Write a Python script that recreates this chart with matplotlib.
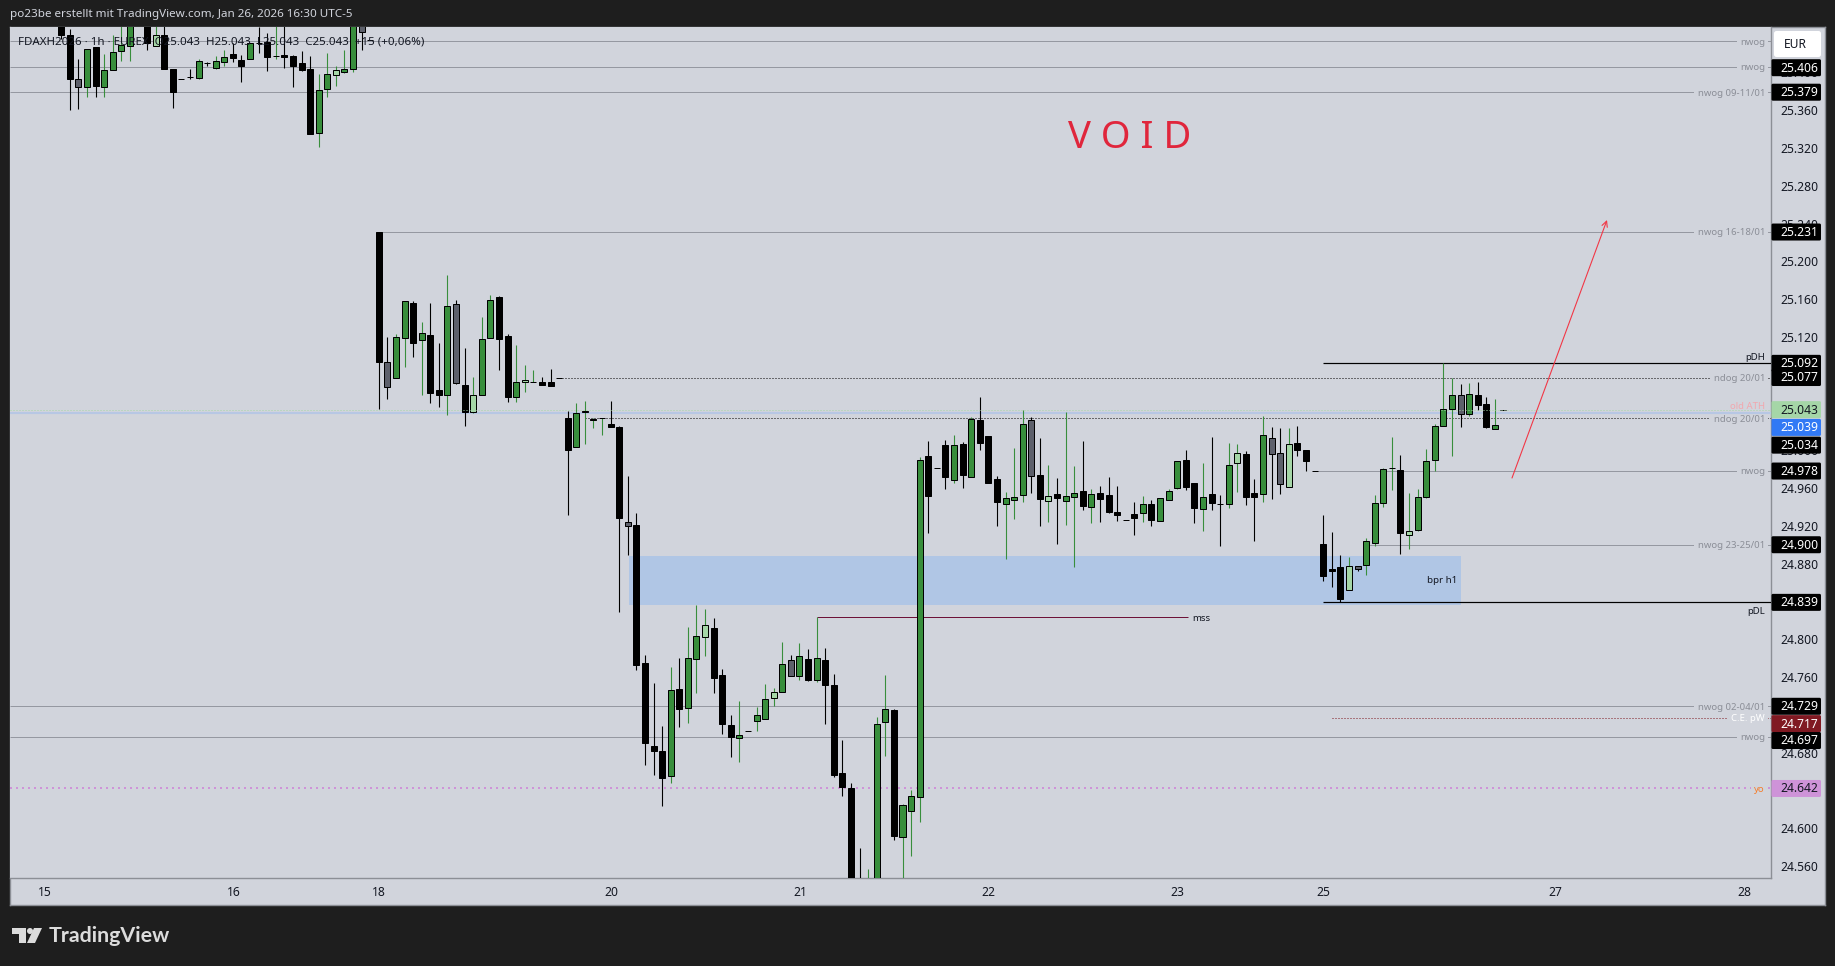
import matplotlib
matplotlib.use("Agg")
import matplotlib.pyplot as plt
from matplotlib.patches import FancyBboxPatch, Polygon, Circle
from matplotlib.transforms import ScaledTranslation

plt.rcParams['font.family'] = ['Noto Sans', 'DejaVu Sans']

# ---------- data ----------
first_bar = 2
opens = [25460,25440,25393,25384,25427,25385,25402,25423,
         25428,25485,25465,25428,25440,25404,25393,25395,25394,25410,
         25405,25411,25419,25413,25414,25431,25432,25417,25418,25417,
         25410,25404,25336,25382,25397,25400,25404,25455,25434,25231,
         25093,25076,25119,25156,25117,25122,25064,25058,25155,25069,
         25041,25058,25119,25162,25121,25056,25072,25072,25072,25072,
         25076,25034,25003,25041,25032,25034,25028,25025,24924,24921,
         24775,24687,24682,24655,24747,24727,24779,24802,24812,24762,
         24709,24695,24703,24713,24716,24738,24744,24778,24761,24779,
         24757,24778,24751,24658,24643,24530,24500,24520,24712,24725,
         24591,24618,24633,24994,24981,25006,24969,25007,24972,25032,
         25015,24970,24943,24947,24953,25032,24974,24946,24954,24946,
         24951,24957,24940,24955,24953,24935,24926,24933,24934,24943,
         24925,24947,24960,24990,24965,24938,24954,24943,24943,24987,
         24996,24955,24954,25013,24997,24961,25008,25000,24978,24901,
         24874,24876,24852,24877,24879,24902,24944,24981,24979,24910,
         24916,24951,24990,25026,25044,25058,25038,25058,25049,25022,
         25043]
closes = [25440,25393,25384,25425,25386,25403,25422,25429,
          25460,25465,25431,25440,25404,25379,25393,25395,25412,25410,
          25412,25416,25415,25407,25431,25431,25416,25417,25416,25407,
          25403,25335,25381,25398,25403,25404,25450,25443,25434,25093,
          25067,25120,25158,25114,25124,25061,25059,25153,25071,25040,
          25059,25118,25159,25118,25056,25072,25074,25072,25069,25068,
          25076,25000,25039,25042,25033,25034,25025,24928,24920,24773,
          24690,24682,24653,24746,24726,24780,24803,24815,24759,24710,
          24696,24699,24703,24720,24737,24744,24774,24761,24782,24757,
          24780,24752,24656,24644,24530,24520,24530,24710,24726,24592,
          24624,24634,24990,24952,24981,24972,25006,24974,25033,25008,
          24965,24945,24949,24951,25028,24973,24948,24952,24949,24952,
          24955,24941,24954,24948,24935,24932,24926,24928,24943,24926,
          24949,24957,24989,24961,24939,24950,24944,24943,24984,24997,
          24950,24951,25016,24996,24964,25007,25000,24989,24978,24867,
          24872,24843,24877,24874,24904,24944,24980,24981,24912,24915,
          24951,24989,25026,25044,25058,25038,25060,25048,25025,25027,
          25043]
highs = [25470,25446,25414,25425,25427,25419,25440,25455,
         25470,25495,25470,25455,25450,25404,25393,25404,25414,25411,
         25417,25424,25431,25418,25431,25448,25442,25455,25450,25418,
         25423,25417,25398,25421,25407,25424,25470,25460,25434,25231,
         25120,25123,25158,25158,25136,25156,25114,25186,25159,25108,
         25078,25141,25164,25163,25123,25111,25090,25085,25078,25086,
         25076,25042,25050,25052,25034,25034,25052,25026,24973,24934,
         24783,24754,24708,24771,24780,24813,24836,24832,24822,24768,
         24720,24735,24703,24728,24753,24748,24797,24783,24796,24790,
         24823,24791,24763,24693,24648,24579,24557,24718,24762,24726,
         24626,24640,24993,25010,24981,25011,25016,25009,25035,25056,
         25015,24973,24956,25002,25043,25035,25013,24984,24971,25040,
         24983,25010,24959,24962,24972,24962,24926,24945,24952,24947,
         24949,24959,24989,25000,24965,24986,25014,24953,25008,25007,
         24999,24970,25036,25025,25024,25024,25026,25000,24978,24931,
         24913,24889,24887,24877,24907,24953,24981,25014,24995,24955,
         24959,25001,25028,25092,25076,25070,25071,25072,25056,25054,
         25043]
lows = [25435,25360,25361,25374,25374,25374,25402,25412,
        25412,25455,25424,25428,25404,25362,25393,25393,25393,25407,
        25404,25407,25411,25390,25414,25421,25401,25414,25405,25385,
        25401,25335,25321,25374,25386,25399,25400,25424,25434,25044,
        25054,25076,25088,25099,25058,25050,25046,25037,25070,25026,
        25039,25058,25119,25085,25051,25051,25062,25072,25069,25068,
        25076,24932,25003,25007,25024,25016,25025,24829,24889,24767,
        24667,24656,24623,24648,24707,24711,24743,24782,24743,24700,
        24675,24670,24703,24703,24716,24729,24744,24761,24757,24756,
        24755,24710,24654,24634,24520,24500,24500,24510,24676,24587,
        24530,24570,24607,24912,24981,24959,24965,24960,24972,25000,
        24965,24920,24885,24927,24945,24955,24920,24924,24901,24921,
        24876,24937,24923,24924,24934,24925,24926,24910,24924,24920,
        24925,24947,24959,24958,24923,24915,24937,24899,24939,24956,
        24942,24904,24945,24948,24954,24961,24994,24978,24978,24862,
        24855,24839,24852,24872,24868,24899,24940,24958,24890,24896,
        24915,24949,24978,25026,24994,25025,25036,25043,25024,25022,
        25043]
# g up, k down, l pale up, s slate down
kinds = list("kksgkggg" "gkklkkkkgk" "ggkkgkkgkk" "kkgglggskk" "sggkgkkgsk"
             "lggkkglgkk" "kkggggkksk" "kkkgkgglkk" "kgkggl" "gsgk" "gkkkkkgggk"
             "gggkkkgkgk" "kkgggsklkg" "gkgkkkkkgk" "gggkkgkkgl" "kkgsslkkkk"
             "kklsggggkl" "ggggg" "sgkkg" "k")

tick_bars = [0, 22, 39, 66, 88, 110, 132, 149, 176, 198]
tick_days = ['15', '16', '18', '20', '21', '22', '23', '25', '27', '28']
# labels hidden entirely behind price tags in the picture are left out
price_ticks = [24560, 24600, 24680, 24760, 24800, 24880, 24920, 24960, 25000,
               25120, 25160, 25200, 25240, 25280, 25320, 25360, 25400]

# horizontal levels: price, start bar (None = whole width), text, colour, width px, dotted
level_prices = [25433, 25406, 25379, 25231, 25077, 25034, 24978, 24900, 24729, 24717, 24697, 24642]
level_starts = [None, None, None, 39, 60, 63, 148, 154, None, 150, None, None]
level_texts = ['nwog', 'nwog', 'nwog 09-11/01', 'nwog 16-18/01', 'ndog 20/01', 'ndog 20/01', 'nwog',
               'nwog 23-25/01', 'nwog 02-04/01', 'C.E. pW', 'nwog', 'yo']
level_colors = ['#9598a1', '#9598a1', '#9598a1', '#9598a1', '#000000', '#000000', '#9598a1',
                '#9598a1', '#9598a1', '#801922', '#9598a1', '#ce93d8']
level_text_colors = ['#8b8e97'] * 9 + ['#ffffff', '#8b8e97', '#f57c2a']
level_dotted = [0, 0, 0, 0, 1, 1, 0, 0, 0, 1, 0, 1]
level_widths = [1, 1, 1, 1, 1, 1, 1, 1, 1, 1, 1, 2]

# price scale labels: value, background, text colour, pixel shift caused by stacking
tag_prices = [25406, 25379, 25231, 25092, 25077, 25043, 25039, 25034, 24978, 24900, 24839, 24729, 24717, 24697, 24642]
tag_bgs = ['#000000'] * 5 + ['#a5d6a7', '#3179f5'] + ['#000000'] * 4 + ['#000000', '#801922', '#000000', '#ce93d8']
tag_fgs = ['#ffffff'] * 5 + ['#131722', '#ffffff'] + ['#ffffff'] * 4 + ['#ffffff', '#ffffff', '#ffffff', '#131722']
tag_shift = [1, 0, 0, 0, 0, 0, 14, 27, 0, 0, 0, 0, 6, 4, 0]

pdh, pdl = 25092, 24839
old_ath, last_blue = 25043, 25039
box_top, box_bottom = 24888, 24836
mss_price = 24823

# ---------- pixel geometry ----------
W, H = 1835, 966
L, R, T, B = 10, 1771, 27, 878.3
FR, FB = 1825, 905
P0, PK = 25476.6, 1.0585   # price at pixel 0 and price per pixel
BAR0, BARW = 44.0, 8.585   # pixel of bar 0 and pixel width of a bar


def bx(px):
    return (px - BAR0) / BARW


def rect(l, t, r, b):
    return [l / W, 1 - b / H, (r - l) / W, (b - t) / H]


BG = '#d1d4dc'
OUTER = '#1e1e1e'
GREEN, PALE, SLATE = '#388e3c', '#a5d6a7', '#5d606b'
LW = 0.72
fs = 8.7

fig = plt.figure(figsize=(W / 100, H / 100), dpi=100, facecolor=OUTER)

frame = fig.add_axes(rect(L, T, FR, FB), facecolor=BG, zorder=0)
frame.set_xticks([]); frame.set_yticks([])
for s in frame.spines.values():
    s.set_color('#8c8f96'); s.set_linewidth(LW * 1.4)

ax = fig.add_axes(rect(L, T, R, B), facecolor=BG, zorder=1)
ax.set_xlim(bx(L), bx(R))
ax.set_ylim(P0 - PK * B, P0 - PK * T)
for k, s in ax.spines.items():
    s.set_color('#8c8f96'); s.set_linewidth(LW * 1.4)
    if k in ('top', 'left'):
        s.set_visible(False)
ax.yaxis.tick_right()
ax.set_yticks(price_ticks)
ax.set_yticklabels([f'{p // 1000}.{p % 1000:03d}' for p in price_ticks], fontsize=fs, color='#131722')
ax.set_xticks(tick_bars)
ax.set_xticklabels(tick_days, fontsize=fs, color='#131722')
ax.tick_params(axis='y', length=0, pad=6.5)
ax.tick_params(axis='x', length=0, pad=5.5)
for lbl in ax.get_xticklabels():
    lbl.set_transform(lbl.get_transform() + ScaledTranslation(0.5 / 100, 0, fig.dpi_scale_trans))

# zone
ax.fill_between([bx(629), bx(1461)], box_bottom, box_top, color='#b0c6e5', lw=0, zorder=1)
ax.text(bx(1457), (box_top + box_bottom) / 2, 'bpr h1', ha='right', va='center', fontsize=7.0, color='#131722', zorder=6)

# levels
ax.axhline(last_blue, color='#b7c7e4', lw=1.5, zorder=3)
for p, st, txt, c, tc, dot, w in zip(level_prices, level_starts, level_texts, level_colors,
                                     level_text_colors, level_dotted, level_widths):
    ls = (0, (1, 2)) if dot else '-'
    ax.hlines(p, bx(L) if st is None else st, bx(R), color=c, lw=w * LW, linestyle=ls, zorder=2)
    ax.text(bx(1765), p - 1, txt, ha='right', va='center', fontsize=6.9, color=tc, zorder=2.5,
            bbox=dict(facecolor=BG, edgecolor='none', pad=2.5))
ax.axhline(old_ath, color='#a5d6a7', lw=LW, linestyle=(0, (1, 2)), zorder=7)
ax.text(bx(1765), old_ath + 3.5, 'old ATH', ha='right', va='center', fontsize=6.9, color='#f2a7ae', zorder=6)

ax.hlines([pdh, pdl], 149, bx(R), color='#000000', lw=LW * 1.2, zorder=3)
ax.text(bx(1765), pdh + 6, 'pDH', ha='right', va='center', fontsize=6.9, color='#131722')
ax.text(bx(1765), pdl - 9.5, 'pDL', ha='right', va='center', fontsize=6.9, color='#131722')
ax.hlines(mss_price, 90, bx(1188), color='#6d1238', lw=LW, zorder=3)
ax.text(bx(1192), mss_price - 1, 'mss', ha='left', va='center', fontsize=6.9, color='#131722')

# candles
bars = list(range(first_bar, first_bar + len(opens)))
assert len(opens) == len(closes) == len(highs) == len(lows) == len(kinds)
fill = {'g': GREEN, 'k': '#000000', 'l': PALE, 's': SLATE}
wick = {'g': GREEN, 'k': '#000000', 'l': GREEN, 's': '#000000'}
ax.vlines(bars, lows, highs, colors=[wick[k] for k in kinds], lw=LW * 1.1, zorder=4)
ax.bar(bars, [c - o for o, c in zip(opens, closes)], bottom=opens, width=0.70,
       color=[fill[k] for k in kinds], edgecolor='#000000', linewidth=LW, zorder=5)

# red arrow and VOID
ax.annotate('', xy=(bx(1607), P0 - PK * 220), xytext=(bx(1512), P0 - PK * 478),
            arrowprops=dict(arrowstyle='->', color='#f23645', lw=LW * 1.1, mutation_scale=10, shrinkA=0, shrinkB=0),
            zorder=6)
ax.text(bx(1130), P0 - PK * 138.5, 'V O I D', ha='center', va='center', fontsize=27.5, color='#e0263c', zorder=6)

# price tags
tags = fig.add_axes(rect(R, T, FR, B), zorder=3)
tags.set_xlim(0, FR - R)
tags.set_ylim(ax.get_ylim())
tags.axis('off')
tag_h = 17 * PK
for p, bg, fg, sh in zip(tag_prices, tag_bgs, tag_fgs, tag_shift):
    y = p - sh * PK
    tags.add_patch(FancyBboxPatch((0.5, y - tag_h / 2), 49.5, tag_h, boxstyle='round,pad=0,rounding_size=1.5',
                                  mutation_aspect=PK, fc=bg, ec='none', zorder=2))
    tags.text(9, y - 0.5, f'{p // 1000}.{p % 1000:03d}', ha='left', va='center', fontsize=fs, color=fg, zorder=3)

# chrome
over = fig.add_axes([0, 0, 1, 1], zorder=4)
over.set_xlim(0, W); over.set_ylim(H, 0); over.axis('off')
over.add_patch(FancyBboxPatch((1774, 31), 47, 26, boxstyle='round,pad=0,rounding_size=2.5',
                              fc='#ffffff', ec='none'))
over.text(1795, 45, 'EUR', ha='center', va='center', fontsize=fs, color='#131722')
over.text(10, 15, 'po23be erstellt mit TradingView.com, Jan 26, 2026 16:30 UTC-5',
          ha='left', va='center', fontsize=8.4, color='#d1d4dc')
over.text(18, 42, 'FDAXH2026 \u00b7 1h \u00b7 EUREX  O25.043  H25.043  L25.043  C25.043  +15 (+0,06%)',
          ha='left', va='center', fontsize=8.3, color='#131722')
logo = '#dcdcdc'
over.add_patch(Polygon([(12, 928), (26, 928), (26, 943), (19, 943), (19, 934), (12, 934)], fc=logo, ec='none'))
over.add_patch(Circle((30, 931), 3, fc=logo, ec='none'))
over.add_patch(Polygon([(34, 928), (42, 928), (35, 943), (27, 943)], fc=logo, ec='none'))
over.text(49, 936, 'TradingView', ha='left', va='center', fontsize=15.4, color=logo, family='Lato', weight='bold')

fig.savefig('out.png', dpi=100, facecolor=OUTER)
